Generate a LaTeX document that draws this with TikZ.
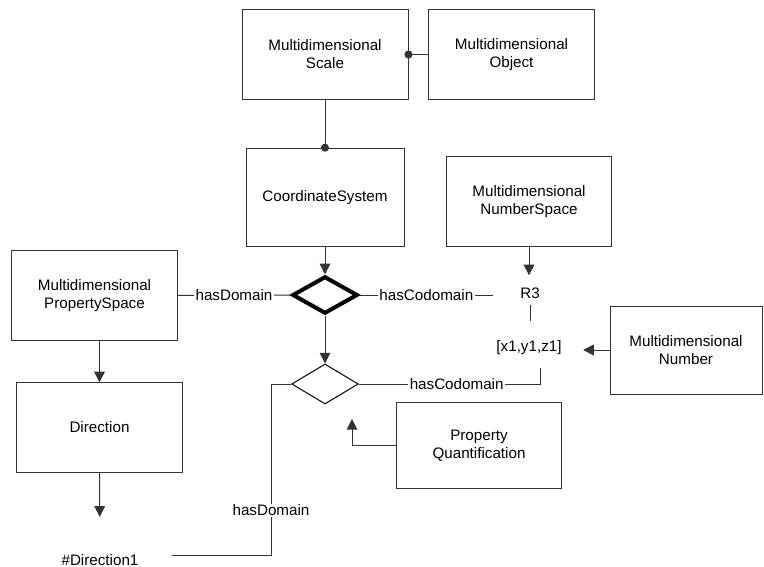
\documentclass[tikz,border=0pt]{standalone}
\usepackage{fontspec}
\setmainfont{Liberation Sans}
\usetikzlibrary{arrows.meta,shapes.geometric}
\begin{document}
\begin{tikzpicture}[x=0.75pt,y=-0.75pt,
  every node/.style={font=\fontsize{11.4}{13.5}\selectfont},
  box/.style={draw=black!80,line width=0.75pt,minimum width=124pt,minimum height=67pt,align=center,inner sep=0pt},
  rel/.style={diamond,draw=black,inner sep=0pt,minimum width=50pt,minimum height=30pt},
  term/.style={inner sep=0pt},
  lbl/.style={fill=white,inner sep=1pt},
  link/.style={draw=black!80,line width=0.75pt},
  arr/.style={link,-{Triangle[width=8pt,length=8pt]}},
  dot/.style={link,{Circle[length=6pt]}-,shorten <=-3pt}]
  \useasboundingbox (0,0) rectangle (764,567);
  \node[box,minimum width=124.5pt,minimum height=68pt] (scale) at (325,54.5) {Multidimensional\\Scale};
  \node[box] (object) at (511.5,54.5) {Multidimensional\\Object};
  \node[box,minimum width=118.5pt,minimum height=74pt] (coordsys) at (325,197.5) {CoordinateSystem};
  \node[box] (numspace) at (529,201.5) {Multidimensional\\NumberSpace};
  \node[box] (propspace) at (94.5,295.5) {Multidimensional\\PropertySpace};
  \node[box] (direction) at (99.5,427.5) {Direction};
  \node[box,minimum height=65pt] (pq) at (479,445.5) {Property\\Quantification};
  \node[box,minimum width=114pt,minimum height=66pt] (mnumber) at (686,350) {Multidimensional\\Number};
  \node[rel,line width=3pt,minimum width=49pt,minimum height=28pt] (rel1) at (325,295) {};
  \node[rel,line width=0.75pt] (rel2) at (325,384) {};
  \node[term] (r3) at (530,293) {R3};
  \node[term] (tuple) at (529,348) {[x1,y1,z1]};
  \node[term] (dir1) at (100,560) {\#Direction1};
  \coordinate (cod1) at (493,295);
  \coordinate (cod2) at (540,368);
  \coordinate (qtip) at (352,419);
  \coordinate (bend) at (271,555);
  \coordinate (dom2) at (172,555);
  \draw[dot] (scale.east) -- (object.west);
  \draw[dot] (coordsys.north) -- (scale.south);
  \draw[arr] (coordsys.south) -- (rel1.north);
  \draw[link] (propspace.east) -- node[lbl]{hasDomain} (rel1.west);
  \draw[link] (rel1.east) -- node[lbl]{hasCodomain} (cod1);
  \draw[arr,shorten >=9pt] (numspace.south) -- (numspace.south |- r3.north);
  \draw[link,shorten <=5pt,shorten >=15pt] (r3.south) -- (tuple.north -| r3.south);
  \draw[arr,shorten >=16pt] (mnumber.west) -- (mnumber.west -| tuple.east);
  \draw[arr] (rel1.south) -- (rel2.north);
  \draw[link] (rel2.east) -- node[lbl,pos=0.54]{hasCodomain} (rel2.east -| cod2) -- (cod2);
  \draw[arr] (pq.west) -| (qtip);
  \draw[link] (rel2.west) -| node[lbl,pos=0.87]{hasDomain} (bend) -- (dom2);
  \draw[arr] (propspace.south -| direction.north) -- (direction.north);
  \draw[arr,shorten >=28pt] (direction.south) -- (dir1.north);
\end{tikzpicture}
\end{document}
